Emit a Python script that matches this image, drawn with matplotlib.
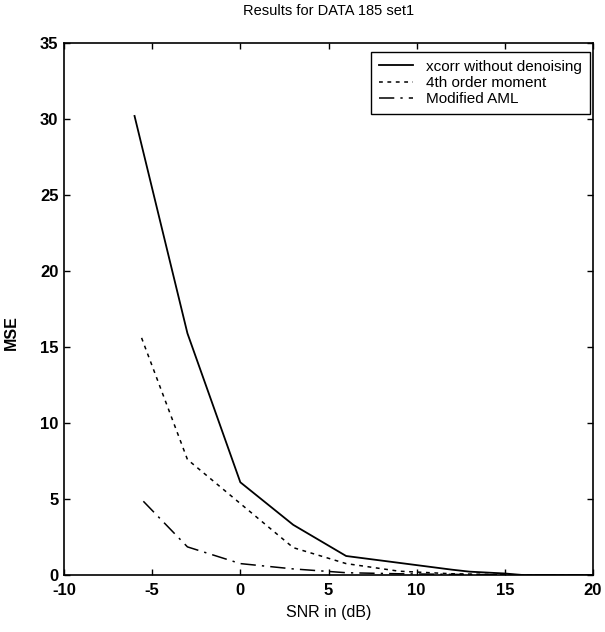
import matplotlib
matplotlib.use("Agg")
import matplotlib.pyplot as plt

plt.rcParams['font.family'] = ['Liberation Sans', 'DejaVu Sans']
plt.rcParams['axes.unicode_minus'] = False

# Data
snr_xcorr = [-6, -3, 0, 3, 6, 9, 12, 13, 15, 16, 20]
mse_xcorr = [30.2, 15.9, 6.1, 3.3, 1.25, 0.8, 0.35, 0.22, 0.1, 0.0, 0.0]

snr_4th = [-5.6, -3, 0, 3, 6, 9, 12, 15, 20]
mse_4th = [15.6, 7.6, 4.7, 1.8, 0.75, 0.25, 0.08, 0.02, 0.0]

snr_aml = [-5.5, -3, 0, 3, 6, 9, 12, 15, 20]
mse_aml = [4.85, 1.85, 0.75, 0.4, 0.15, 0.08, 0.04, 0.01, 0.0]

labels = ['xcorr without denoising', '4th order moment', 'Modified AML']
title = 'Results for DATA 185 set1'
xlabel = 'SNR in (dB)'
ylabel = 'MSE'
xticks = [-10, -5, 0, 5, 10, 15, 20]
yticks = [0, 5, 10, 15, 20, 25, 30, 35]

fig = plt.figure(figsize=(6.05, 6.32), dpi=100)
ax = fig.add_axes([64/605, 57/632, 529/605, 532/632])

ax.plot(snr_xcorr, mse_xcorr, color='black', lw=1.3, linestyle='-', label=labels[0])
ax.plot(snr_4th, mse_4th, color='black', lw=1.1, linestyle=(0, (2.5, 3)), label=labels[1])
ax.plot(snr_aml, mse_aml, color='black', lw=1.1, linestyle=(0, (10, 4, 1.5, 4)), label=labels[2])

ax.set_xlim(-10, 20)
ax.set_ylim(0, 35)
ax.set_xticks(xticks)
ax.set_yticks(yticks)
ax.tick_params(direction='in', top=True, right=True, length=4, width=1,
               labelsize=12)
ax.tick_params(axis='x', pad=6)
ax.tick_params(axis='y', pad=4)
for lab in ax.get_xticklabels() + ax.get_yticklabels():
    lab.set_fontweight('bold')
for s in ax.spines.values():
    s.set_linewidth(1.2)

ax.set_title(title, fontsize=10.5, pad=20)
ax.set_xlabel(xlabel, fontsize=11.5, labelpad=5)
ax.set_ylabel(ylabel, fontsize=11.5, fontweight='bold', labelpad=12)
ax.yaxis.set_label_coords(-0.085, 0.455)

leg = ax.legend(loc='upper right', bbox_to_anchor=(1.0 - 3/529, 1.0 - 9/532),
                fontsize=11, frameon=True, fancybox=False, framealpha=1,
                edgecolor='black', handlelength=2.2, handletextpad=0.9,
                borderpad=0.5, labelspacing=0.15, borderaxespad=0)
leg.get_frame().set_linewidth(1.0)

fig.savefig('out.png', dpi=100)
